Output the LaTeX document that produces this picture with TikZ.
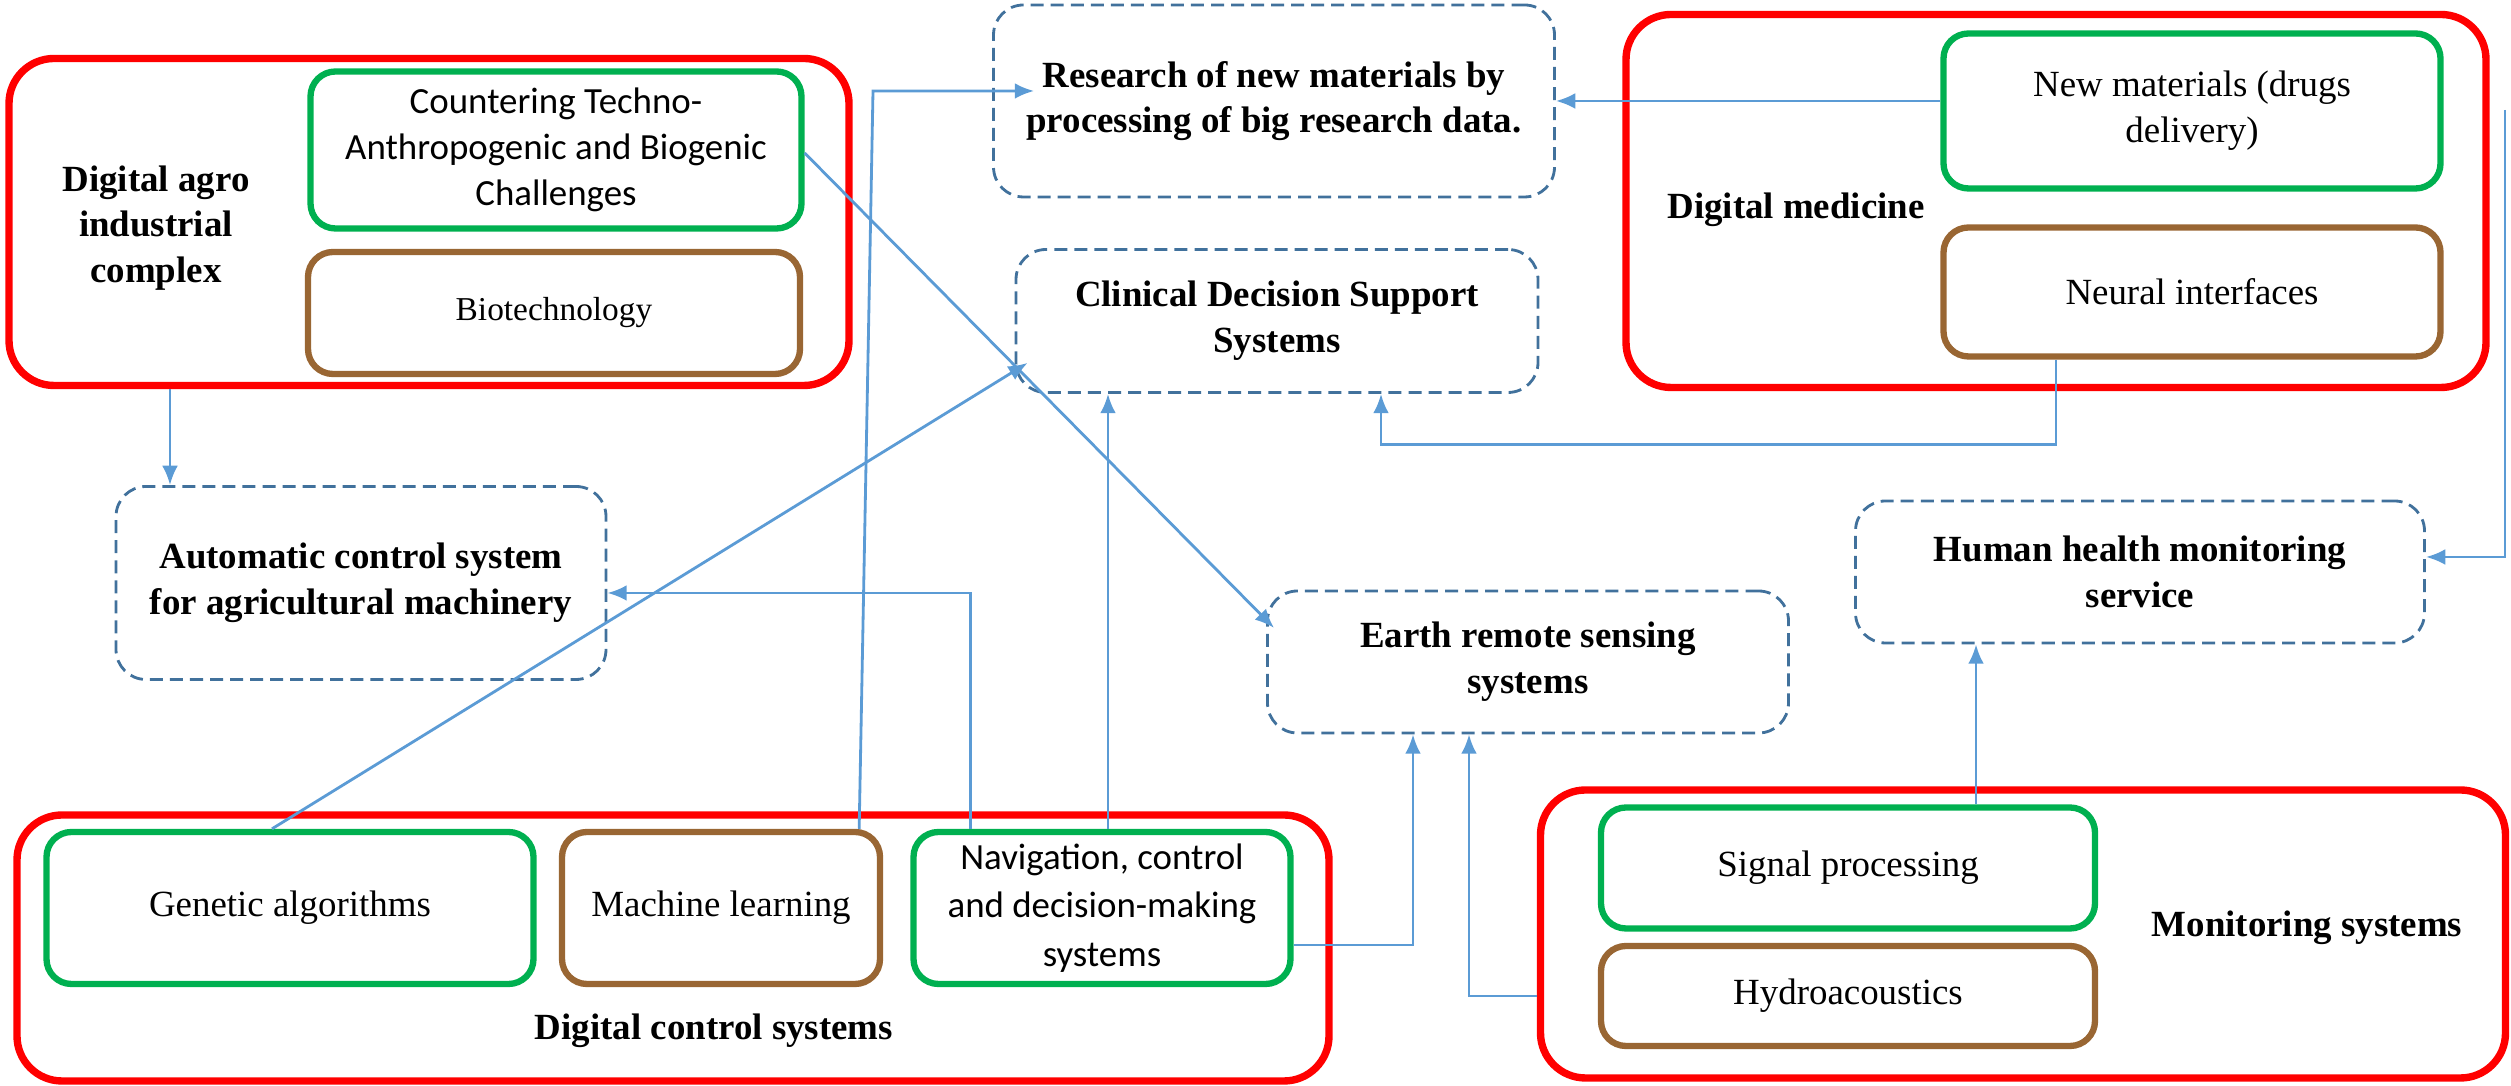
\documentclass[tikz,border=0pt]{standalone}
\usepackage{fontspec}
\setmainfont{Liberation Serif}
\newfontfamily\calibri{Carlito}
\usepackage{tikz}
\usetikzlibrary{arrows.meta}
\definecolor{grpred}{HTML}{FF0000}
\definecolor{grpgreen}{HTML}{00B050}
\definecolor{grpbrown}{HTML}{996633}
\definecolor{linkblue}{HTML}{5B9BD5}
\definecolor{dashblue}{HTML}{41719C}

\begin{document}
\begin{tikzpicture}[
  font=\fontsize{10.5}{13}\selectfont,
  grpbox/.style={draw=grpred, line width=2.1pt, rounded corners=0.45cm},
  greenbox/.style={draw=grpgreen, line width=1.8pt, rounded corners=0.25cm, align=center},
  brownbox/.style={draw=grpbrown, line width=1.8pt, rounded corners=0.25cm, align=center},
  outbox/.style={draw=dashblue, line width=0.8pt, dash pattern=on 3.7pt off 2pt,
    rounded corners=0.3cm, align=center, font=\fontsize{10.5}{13}\selectfont\bfseries},
  grouptitle/.style={align=center, font=\fontsize{10.5}{13}\selectfont\bfseries},
  link/.style={draw=linkblue, line width=0.8pt, -{Latex[length=5.5pt,width=4.5pt]}}
]
\useasboundingbox (0,0) rectangle (25.11,10.86);

\node[grpbox, minimum width=8.40cm, minimum height=3.27cm] (agro) at (4.29,8.64) {};
\node[grouptitle] (agrot) at (1.56,8.58) {Digital agro\\industrial\\complex};
\node[greenbox, minimum width=4.91cm, minimum height=1.57cm,
      font=\fontsize{10.5}{13}\selectfont\calibri] (ctc) at (5.56,9.36)
      {Countering Techno-\\Anthropogenic and Biogenic\\Challenges};
\node[brownbox, minimum width=4.92cm, minimum height=1.22cm,
      font=\fontsize{9.5}{12}\selectfont] (bio) at (5.54,7.73) {Biotechnology};

\node[outbox, minimum width=5.61cm, minimum height=1.92cm] (res) at (12.74,9.85)
      {Research of new materials by\\processing of big research data.};
\node[outbox, minimum width=5.22cm, minimum height=1.43cm] (cds) at (12.77,7.65)
      {Clinical Decision Support\\Systems};

\node[grpbox, minimum width=8.60cm, minimum height=3.73cm] (med) at (20.56,8.85) {};
\node[grouptitle] (medt) at (17.96,8.76) {Digital medicine};
\node[greenbox, minimum width=4.97cm, minimum height=1.55cm] (nm) at (21.92,9.75)
      {New materials (drugs\\delivery)};
\node[brownbox, minimum width=4.97cm, minimum height=1.29cm] (ni) at (21.92,7.94)
      {Neural interfaces};

\node[outbox, minimum width=4.90cm, minimum height=1.93cm] (acs) at (3.61,5.03)
      {Automatic control system\\for agricultural machinery};
\node[outbox, minimum width=5.21cm, minimum height=1.42cm] (ers) at (15.28,4.24)
      {Earth remote sensing\\systems};
\node[outbox, minimum width=5.69cm, minimum height=1.42cm] (hhm) at (21.40,5.14)
      {Human health monitoring\\service};

\node[grpbox, minimum width=13.12cm, minimum height=2.66cm] (dcs) at (6.73,1.38) {};
\node[grouptitle] (dcst) at (7.14,0.55) {Digital control systems};
\node[greenbox, minimum width=4.87cm, minimum height=1.52cm] (ga) at (2.90,1.78)
      {Genetic algorithms};
\node[brownbox, minimum width=3.18cm, minimum height=1.52cm] (ml) at (7.21,1.78)
      {Machine learning};
\node[greenbox, minimum width=3.77cm, minimum height=1.52cm,
      font=\fontsize{10.5}{13.8}\selectfont\calibri] (nav) at (11.02,1.78)
      {Navigation, control\\and decision-making\\systems};

\node[grpbox, minimum width=9.65cm, minimum height=2.88cm] (mon) at (20.23,1.52) {};
\node[grouptitle] (mont) at (23.07,1.58) {Monitoring systems};
\node[greenbox, minimum width=4.94cm, minimum height=1.21cm] (sp) at (18.48,2.18)
      {Signal processing};
\node[brownbox, minimum width=4.94cm, minimum height=1.00cm] (hp) at (18.48,0.90)
      {Hydroacoustics};

\draw[link] ([xshift=-2.59cm]agro.south) -- ([xshift=-1.91cm]acs.north);
\draw[link] ([yshift=-0.03cm]ctc.east) -- ([xshift=0.08cm,yshift=0.34cm]ers.west);
\coordinate (mlbend) at (8.73,9.95);
\draw[link] ([xshift=-0.24cm]ml.north east) -- (mlbend) -- ([xshift=0.42cm,yshift=0.1cm]res.west);
\draw[link] ([xshift=-0.18cm]ga.north) -- ([xshift=0.13cm,yshift=0.31cm]cds.south west);
\draw[link] ([xshift=0.6cm]nav.north west) |- ([yshift=-0.1cm]acs.east);
\path ([xshift=-1.69cm]cds.south) coordinate (cdsin);
\draw[link] (nav.north -| cdsin) -- (cdsin);
\draw[link] ([xshift=-1.36cm]ni.south) -- ++(0,-0.85) -| ([xshift=1.04cm]cds.south);
\draw[link] (nm.west |- res.east) -- (res.east);
\coordinate (rtop) at (25.05,9.76);
\draw[link] (rtop) |- ([yshift=0.15cm]hhm.east);
\path ([xshift=-1.64cm]hhm.south) coordinate (hhmin);
\draw[link] (sp.north -| hhmin) -- (hhmin);
\draw[link] ([yshift=-0.37cm]nav.east) -| ([xshift=-1.15cm]ers.south);
\draw[link] (mon.west |- hp.west) -| ([xshift=-0.59cm]ers.south);
\end{tikzpicture}
\end{document}
